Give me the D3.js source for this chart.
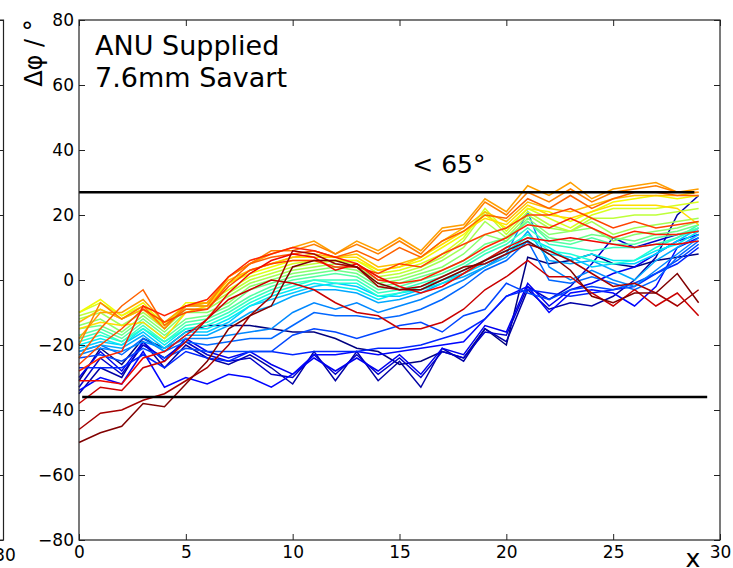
<!DOCTYPE html>
<html>
<head>
<meta charset="utf-8">
<title>ANU Supplied 7.6mm Savart</title>
<script src="https://d3js.org/d3.v7.min.js"></script>
<style>
body { margin: 0; background: #fff; }
text { font-family: "DejaVu Sans", sans-serif; fill: #000; }
</style>
</head>
<body>
<svg id="chart"></svg>
<script>

// x positions of each profile point
var xs = d3.range(0, 30);

// one profile per row, ordered blue -> red (jet colour order)
var profiles = [
 [-31,-21,-26,-18,-21,-16,-14,-14,-14,-15,-16,-16,-18,-21,-22,-26,-25,-22,-24,-15,-20,7,5,6,8,5,4,6,7,8],
 [-35,-27,-30,-19,-27,-20,-24,-26,-23,-27,-32,-22,-31,-22,-31,-25,-33,-21,-25,-15,-19,-3,-9,-7,-8,-5,0,7,20,26],
 [-33,-24,-29,-20,-24,-19,-23,-25,-24,-29,-30,-23,-29,-23,-29,-24,-30,-22,-24,-16,-17,-2,-6,-2,5,13,10,12,14,15],
 [-30,-22,-28,-19,-25,-18,-22,-24,-22,-26,-29,-24,-28,-24,-28,-23,-29,-21,-23,-14,-16,-1,-8,-3,-1,2,4,8,12,14],
 [-34,-30,-32,-22,-33,-30,-32,-29,-30,-33,-29,-23,-23,-22,-23,-22,-21,-20,-19,-12,-5,-2,-10,-4,-3,-4,-8,-2,10,13],
 [-27,-27,-27,-23,-27,-22,-24,-25,-22,-22,-23,-22,-22,-22,-21,-21,-20,-18,-16,-12,-5,-3,-4,-5,-4,-3,-2,2,5,10],
 [-24,-23,-25,-21,-24,-21,-22,-22,-22,-22,-17,-15,-16,-18,-16,-14,-13,-16,-11,-9,-1,-4,-6,-3,-2,-3,-1,2,6,11],
 [-22,-20,-23,-18,-22,-19,-20,-19,-18,-18,-14,-10,-11,-11,-12,-11,-9,-6,-2,3,6,12,0,-1,1,-1,-3,0,7,12],
 [-23,-21,-22,-19,-21,-18,-18,-17,-16,-15,-10,-7,-9,-7,-10,-8,-6,-3,0,4,8,21,4,0,3,0,-2,3,8,13],
 [-22,-20,-21,-17,-22,-17,-17,-14,-10,-8,-5,-3,-3,-4,-7,-6,-4,-1,1,4,7,15,6,5,6,3,0,6,10,14],
 [-21,-19,-20,-16,-21,-16,-16,-13,-8,-6,-4,-2,-1,-2,-5,-5,-3,0,2,5,8,12,8,7,4,5,5,8,12,16],
 [-20,-18,-20,-15,-20,-15,-15,-12,-8,-5,-3,-1,-2,-3,-6,-4,-3,-1,2,6,9,13,10,6,8,6,6,9,11,15],
 [-19,-17,-19,-15,-19,-15,-14,-11,-7,-4,-2,0,-1,-1,-5,-4,-2,0,3,6,10,14,9,8,6,5,6,10,13,16],
 [-18,-16,-19,-14,-19,-14,-13,-10,-6,-3,-1,0,0,0,-4,-3,-1,1,4,8,11,16,11,10,9,10,10,11,13,17],
 [-17,-15,-18,-13,-18,-13,-12,-9,-5,-2,0,1,2,1,-3,-2,0,2,5,9,12,18,12,11,13,11,11,13,14,16],
 [-15,-14,-17,-12,-17,-12,-11,-8,-3,-1,1,2,3,2,-2,-1,1,3,6,11,13,18,13,12,14,13,12,14,15,17],
 [-14,-12,-16,-11,-16,-10,-10,-7,-2,0,2,3,4,3,-1,0,2,4,8,14,12,19,14,15,16,12,14,15,16,18],
 [-12,-10,-14,-10,-15,-9,-9,-5,-1,1,3,4,5,4,0,1,3,6,10,18,13,20,16,15,18,14,16,17,18,19],
 [-11,-9,-12,-9,-14,-8,-8,-4,0,2,4,5,6,5,1,2,4,7,12,21,14,21,17,15,19,19,20,20,21,22],
 [-10,-7,-11,-8,-13,-8,-7,-3,1,3,5,6,6,6,2,3,5,8,13,22,15,22,19,16,20,22,22,22,23,24],
 [-10,-6,-11,-7,-14,-7,-7,-1,2,4,6,6,6,6,3,4,6,10,14,20,16,22,21,18,21,24,25,26,25,26],
 [-15,-13,-14,-13,-18,-10,-8,-1,3,5,7,7,7,7,3,4,7,11,15,19,17,23,20,19,21,23,23,23,22,17],
 [-13,-9,-12,-9,-15,-8,-7,0,3,5,7,8,7,8,4,5,7,12,16,21,18,24,22,21,23,25,26,26,26,27],
 [-18,-10,-10,-6,-13,-8,-7,1,5,8,10,12,8,12,9,13,9,16,17,25,21,29,26,30,25,28,29,30,27,28],
 [-20,-7,-12,-8,-15,-8,-8,1,5,9,9,11,8,11,8,12,8,15,16,24,20,27,24,28,24,27,28,29,27,27],
 [-24,-15,-8,-3,-14,-9,-9,-1,5,7,8,9,7,9,6,10,7,12,15,20,19,25,22,26,22,25,27,27,26,26],
 [-26,-20,-15,-9,-13,-10,-9,-2,3,5,6,6,4,4,2,5,4,8,11,14,16,20,20,22,19,16,18,16,17,18],
 [-28,-24,-22,-8,-11,-8,-6,1,6,8,10,9,7,5,0,-1,0,3,6,10,13,17,16,19,16,13,15,14,14,15],
 [-31,-31,-32,-24,-22,-17,-12,-4,2,6,8,7,3,5,1,-2,-4,-2,2,6,10,13,12,13,12,11,10,11,11,12],
 [-38,-33,-34,-27,-25,-19,-12,-6,-3,0,-1,-3,-7,-10,-11,-15,-15,-13,-9,-3,1,6,1,1,-4,-8,-3,-8,-4,-11],
 [-46,-41,-40,-37,-35,-31,-27,-20,-11,-5,9,8,5,4,-2,-3,-2,1,4,5,8,11,9,6,2,-2,-1,-4,-8,-3],
 [-50,-47,-45,-38,-39,-32,-25,-15,-11,-8,4,6,6,4,-1,-3,-3,0,3,6,9,12,8,3,-5,-7,-4,-4,2,-7]
];

// limit lines: level, start x, end x
var limitLevels = [27, -36];
var limitStart = [0, 0.15];
var limitEnd = [28.8, 29.4];

var xTicks = [0, 5, 10, 15, 20, 25, 30];
var yTicks = [-80, -60, -40, -20, 0, 20, 40, 60, 80];

var titleLines = ["ANU Supplied", "7.6mm Savart"];
var limitLabel = "< 65°";

var W = 733, H = 568;
var mLeft = 79, mRight = 720, mTop = 20, mBottom = 540;

var svg = d3.select("#chart").attr("width", W).attr("height", H);

var x = d3.scaleLinear().domain([0, 30]).range([mLeft, mRight]);
var y = d3.scaleLinear().domain([-80, 80]).range([mBottom, mTop]);

// matplotlib jet colormap
var jetR = d3.scaleLinear().domain([0, 0.35, 0.66, 0.89, 1]).range([0, 0, 1, 1, 0.5]).clamp(true);
var jetG = d3.scaleLinear().domain([0, 0.125, 0.375, 0.64, 0.91, 1]).range([0, 0, 1, 1, 0, 0]).clamp(true);
var jetB = d3.scaleLinear().domain([0, 0.11, 0.34, 0.65, 1]).range([0.5, 1, 1, 0, 0]).clamp(true);
function jet(t) {
	return d3.rgb(jetR(t) * 255, jetG(t) * 255, jetB(t) * 255).toString();
}

// piece of the neighbouring panel on the left
var ghost = svg.append("g");
ghost.append("g")
	.attr("transform", "translate(3.5,0)")
	.call(d3.axisLeft(y).tickValues(yTicks).tickSizeInner(4).tickSizeOuter(0).tickFormat(""))
	.call(function(g) { g.select(".domain").remove(); g.selectAll("line").attr("stroke", "#222"); });
ghost.append("path")
	.attr("d", "M0," + mBottom + "H3.5V" + mTop + "H0")
	.attr("fill", "none").attr("stroke", "#222").attr("stroke-width", 1.2);
ghost.append("text")
	.attr("x", 5).attr("y", 561)
	.attr("text-anchor", "middle")
	.style("font-size", "17px")
	.text("30");

var plot = svg.append("g");

var line = d3.line()
	.x(function(d, i) { return x(xs[i]); })
	.y(function(d) { return y(d); });

plot.selectAll(".profile")
	.data(profiles)
	.enter()
	.append("path")
	.attr("class", "profile")
	.attr("d", line)
	.attr("fill", "none")
	.attr("stroke", function(d, i) { return jet(i / (profiles.length - 1)); })
	.attr("stroke-width", 1.5)
	.attr("stroke-linejoin", "miter");

plot.selectAll(".limit")
	.data(limitLevels)
	.enter()
	.append("line")
	.attr("class", "limit")
	.attr("x1", function(d, i) { return x(limitStart[i]); })
	.attr("x2", function(d, i) { return x(limitEnd[i]); })
	.attr("y1", function(d) { return y(d); })
	.attr("y2", function(d) { return y(d); })
	.attr("stroke", "#000")
	.attr("stroke-width", 2.5);

// axes, ticks pointing inward
function tidy(g) {
	g.select(".domain").remove();
	g.selectAll(".tick line").attr("stroke", "#222");
	g.selectAll(".tick text").style("font-family", "DejaVu Sans").style("font-size", "17px").attr("fill", "#000");
}

svg.append("g")
	.attr("transform", "translate(" + mLeft + ",0)")
	.call(d3.axisLeft(y).tickValues(yTicks).tickSizeInner(-6).tickSizeOuter(0).tickPadding(5))
	.call(tidy);

svg.append("g")
	.attr("transform", "translate(" + mRight + ",0)")
	.call(d3.axisRight(y).tickValues(yTicks).tickSizeInner(-6).tickSizeOuter(0).tickFormat(""))
	.call(tidy);

svg.append("g")
	.attr("transform", "translate(0," + mBottom + ")")
	.call(d3.axisBottom(x).tickValues(xTicks).tickSizeInner(-6).tickSizeOuter(0).tickPadding(6))
	.call(tidy);

svg.append("g")
	.attr("transform", "translate(0," + mTop + ")")
	.call(d3.axisTop(x).tickValues(xTicks).tickSizeInner(-6).tickSizeOuter(0).tickFormat(""))
	.call(tidy);

svg.append("rect")
	.attr("x", mLeft).attr("y", mTop)
	.attr("width", mRight - mLeft).attr("height", mBottom - mTop)
	.attr("fill", "none").attr("stroke", "#222").attr("stroke-width", 1.2);

// annotations
svg.selectAll(".title")
	.data(titleLines)
	.enter()
	.append("text")
	.attr("class", "title")
	.attr("x", x(0.75))
	.attr("y", function(d, i) { return 55 + i * 32; })
	.style("font-size", "27px")
	.text(function(d) { return d; });

svg.append("text")
	.attr("x", x(15.6))
	.attr("y", y(33))
	.style("font-size", "25px")
	.text(limitLabel);

svg.append("text")
	.attr("transform", "translate(42,53) rotate(-90)")
	.attr("text-anchor", "middle")
	.style("font-size", "24px")
	.text("Δφ / °");

svg.append("text")
	.attr("x", 693).attr("y", 567)
	.attr("text-anchor", "middle")
	.style("font-size", "25px")
	.text("x");

</script>
</body>
</html>
